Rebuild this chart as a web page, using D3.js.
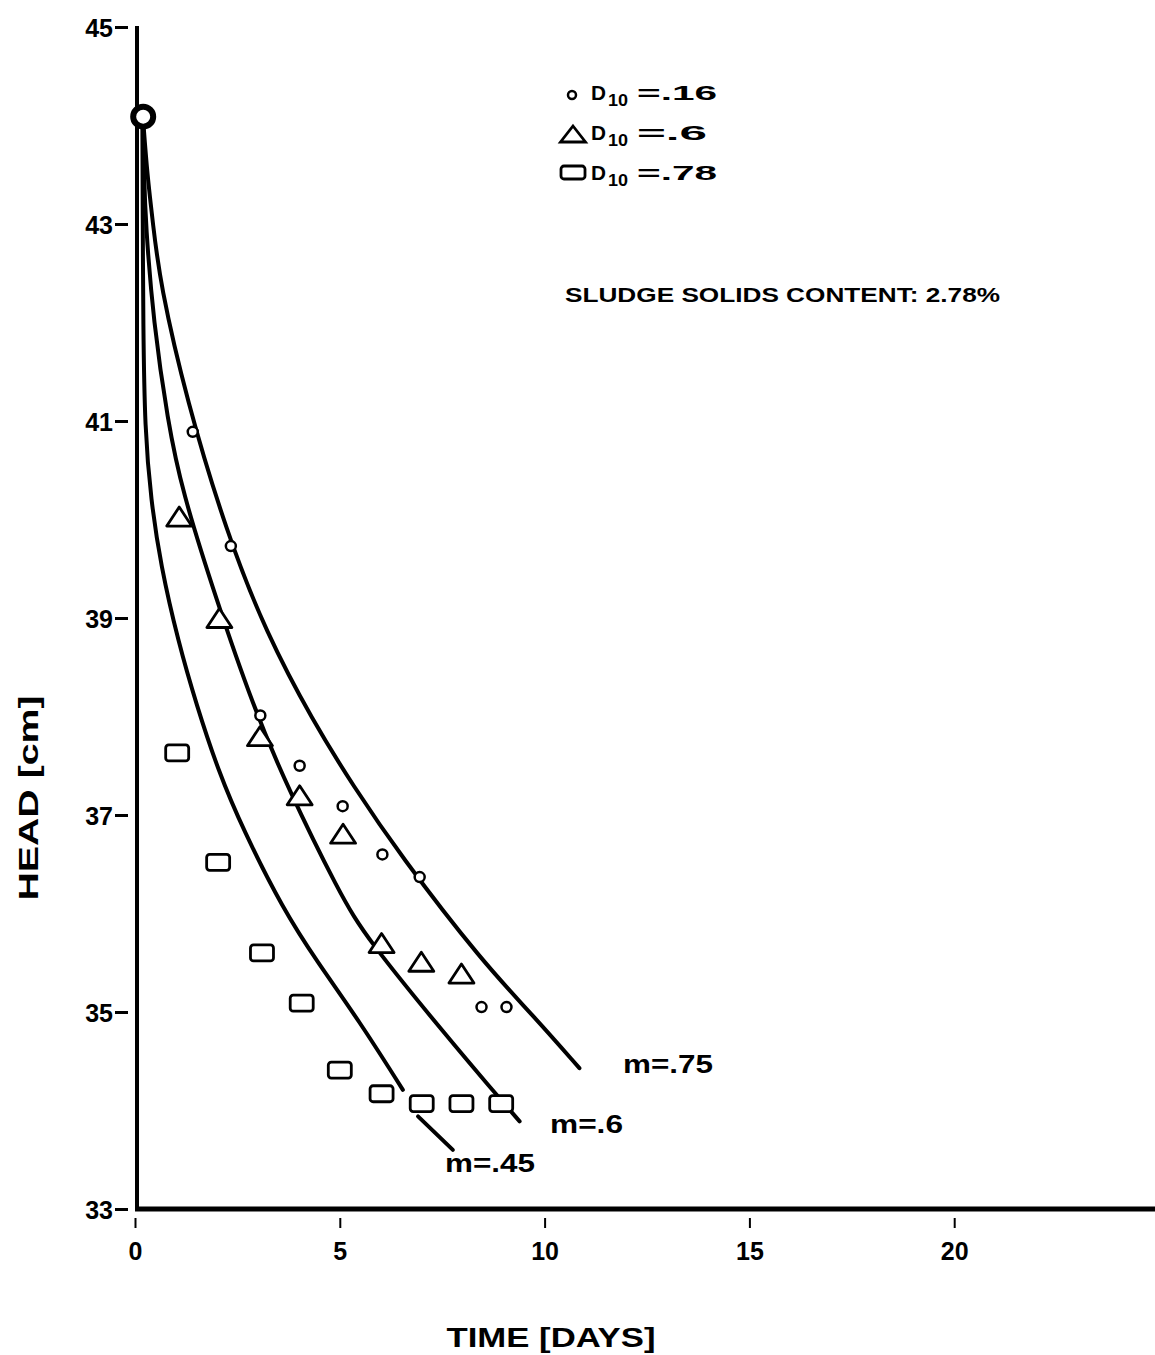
<!DOCTYPE html>
<html>
<head>
<meta charset="utf-8">
<script src="https://cdn.jsdelivr.net/npm/d3@7"></script>
<style>
  body { margin: 0; background: #fff; }
  text { font-family: "Liberation Sans", Arial, sans-serif; font-weight: bold; fill: #000; }
</style>
</head>
<body>
<svg id="chart" width="1155" height="1355"></svg>
<script>
var xTicks = [0, 5, 10, 15, 20];
var yTicks = [33, 35, 37, 39, 41, 43, 45];

// common starting reading (markers overlap at t ~ 0)
var startPoint = [[0.2, 44.09]];

// D10 = .16
var circlePts = [[1.41, 40.89], [2.34, 39.73], [3.06, 38.01], [4.02, 37.5], [5.07, 37.09],
  [6.04, 36.6], [6.95, 36.37], [8.46, 35.05], [9.07, 35.05]];
// D10 = .6
var trianglePts = [[1.08, 40.03], [2.06, 39.0], [3.05, 37.8], [4.02, 37.2], [5.08, 36.81],
  [6.02, 35.7], [6.99, 35.51], [7.97, 35.39]];
// D10 = .78
var squarePts = [[1.03, 37.63], [2.03, 36.52], [3.1, 35.6], [4.07, 35.09], [5.0, 34.41],
  [6.02, 34.17], [7.0, 34.07], [7.97, 34.07], [8.94, 34.07]];

// fitted curves
var curveM75 = [[0.2, 44.05], [0.3, 43.5], [0.44, 43.0], [0.61, 42.4], [1.26, 41.21], [2.24, 39.86], [3.21, 38.84],
  [4.35, 37.95], [5.32, 37.3], [6.46, 36.6], [8.5, 35.5], [9.71, 34.97], [10.85, 34.43]];
var curveM6 = [[0.2, 44.05], [0.22, 43.5], [0.26, 43.0], [0.45, 42.0], [0.8, 41.0], [1.14, 40.3], [1.99, 39.18],
  [2.89, 38.1], [3.7, 37.3], [5.0, 36.2], [5.65, 35.75], [7.68, 34.72], [8.66, 34.24], [9.39, 33.89]];
var curveM45a = [[0.18, 44.05], [0.19, 43.0], [0.2, 42.0], [0.24, 40.9], [0.39, 40.2], [0.62, 39.55], [1.06, 38.75],
  [1.5, 38.12], [2.03, 37.45], [2.64, 36.85], [3.62, 36.04], [4.43, 35.52], [5.49, 34.9], [6.54, 34.21]];
var curveM45b = [[6.91, 33.94], [7.76, 33.6]];

var curveLabels = ['m=.75', 'm=.6', 'm=.45'];
var legendLabels = ['=.16', '=.6', '=.78'];

var svg = d3.select('#chart');
svg.append('rect').attr('width', 1155).attr('height', 1355).attr('fill', '#fff');

var x = d3.scaleLinear().domain([0, 25]).range([135, 1159]);
var y = d3.scaleLinear().domain([33, 45]).range([1209, 27]);

// axes
svg.append('line')
  .attr('x1', 137).attr('x2', 137)
  .attr('y1', y(45) - 1).attr('y2', y(33))
  .attr('stroke', '#000').attr('stroke-width', 4);

svg.append('line')
  .attr('x1', x(0)).attr('x2', 1155)
  .attr('y1', y(33)).attr('y2', y(33))
  .attr('stroke', '#000').attr('stroke-width', 5);

var yAxis = d3.axisLeft(y).tickValues(yTicks).tickSize(13).tickPadding(2).tickFormat(d3.format('d'));
var gy = svg.append('g').attr('transform', 'translate(128,0)').call(yAxis);
gy.select('.domain').remove();
gy.selectAll('.tick line').attr('stroke', '#000').attr('stroke-width', 3);
gy.selectAll('.tick text').attr('font-size', 25).attr('font-family', '"Liberation Sans", Arial, sans-serif')
  .attr('font-weight', 'bold').attr('fill', '#000').attr('dy', '0.36em');

var xAxis = d3.axisBottom(x).tickValues(xTicks).tickSize(10).tickPadding(14);
var gx = svg.append('g').attr('transform', 'translate(0,1218)').call(xAxis);
gx.select('.domain').remove();
gx.selectAll('.tick line').attr('stroke', '#000').attr('stroke-width', 2);
gx.selectAll('.tick text').attr('font-size', 25).attr('font-family', '"Liberation Sans", Arial, sans-serif')
  .attr('font-weight', 'bold').attr('fill', '#000');

// axis titles
svg.append('text')
  .attr('x', 551).attr('y', 1347)
  .attr('text-anchor', 'middle')
  .attr('font-size', 27)
  .attr('textLength', 209).attr('lengthAdjust', 'spacingAndGlyphs')
  .text('TIME [DAYS]');

svg.append('text')
  .attr('transform', 'translate(38,798) rotate(-90)')
  .attr('text-anchor', 'middle')
  .attr('font-size', 28)
  .attr('textLength', 205).attr('lengthAdjust', 'spacingAndGlyphs')
  .text('HEAD [cm]');

// fitted curves
var line = d3.line()
  .x(function(d) { return x(d[0]); })
  .y(function(d) { return y(d[1]); })
  .curve(d3.curveBasis);

[curveM75, curveM6, curveM45a, curveM45b].forEach(function(pts) {
  svg.append('path')
    .datum(pts)
    .attr('d', line)
    .attr('fill', 'none')
    .attr('stroke', '#000')
    .attr('stroke-width', 4)
    .attr('stroke-linecap', 'round');
});

// curve labels
var labelPos = [[623, 1073, 90], [550, 1133, 73], [445, 1172, 90]];
curveLabels.forEach(function(t, i) {
  svg.append('text')
    .attr('x', labelPos[i][0]).attr('y', labelPos[i][1])
    .attr('font-size', 25)
    .attr('textLength', labelPos[i][2]).attr('lengthAdjust', 'spacingAndGlyphs')
    .text(t);
});

// markers
function triPath(w, h) {
  return 'M0,' + (-h / 2) + 'L' + (w / 2) + ',' + (h / 2) + 'L' + (-w / 2) + ',' + (h / 2) + 'Z';
}

svg.selectAll('.startPt')
  .data(startPoint)
  .enter().append('circle')
  .attr('class', 'startPt')
  .attr('cx', function(d) { return x(d[0]); })
  .attr('cy', function(d) { return y(d[1]); })
  .attr('r', 10)
  .attr('fill', '#fff').attr('stroke', '#000').attr('stroke-width', 6);

svg.selectAll('.circ')
  .data(circlePts)
  .enter().append('circle')
  .attr('class', 'circ')
  .attr('cx', function(d) { return x(d[0]); })
  .attr('cy', function(d) { return y(d[1]); })
  .attr('r', 5)
  .attr('fill', '#fff').attr('stroke', '#000').attr('stroke-width', 2.5);

svg.selectAll('.tri')
  .data(trianglePts)
  .enter().append('path')
  .attr('class', 'tri')
  .attr('transform', function(d) { return 'translate(' + x(d[0]) + ',' + y(d[1]) + ')'; })
  .attr('d', triPath(25, 19))
  .attr('fill', '#fff').attr('stroke', '#000').attr('stroke-width', 2.8)
  .attr('stroke-linejoin', 'round');

svg.selectAll('.sq')
  .data(squarePts)
  .enter().append('rect')
  .attr('class', 'sq')
  .attr('x', function(d) { return x(d[0]) - 11.5; })
  .attr('y', function(d) { return y(d[1]) - 8; })
  .attr('width', 23).attr('height', 16).attr('rx', 3)
  .attr('fill', '#fff').attr('stroke', '#000').attr('stroke-width', 2.8);

// legend
var legY = [100, 140, 180];
var legLen = [80, 70, 80];
svg.append('circle').attr('cx', 572).attr('cy', 95).attr('r', 4)
  .attr('fill', '#fff').attr('stroke', '#000').attr('stroke-width', 2.5);
svg.append('path').attr('transform', 'translate(573,134)').attr('d', triPath(25, 16))
  .attr('fill', '#fff').attr('stroke', '#000').attr('stroke-width', 2.8);
svg.append('rect').attr('x', 561).attr('y', 166).attr('width', 24).attr('height', 13).attr('rx', 3)
  .attr('fill', '#fff').attr('stroke', '#000').attr('stroke-width', 2.8);

legendLabels.forEach(function(t, i) {
  svg.append('text').attr('x', 591).attr('y', legY[i]).attr('font-size', 21)
    .attr('textLength', 15).attr('lengthAdjust', 'spacingAndGlyphs').text('D');
  svg.append('text').attr('x', 608).attr('y', legY[i] + 6).attr('font-size', 16)
    .attr('textLength', 20).attr('lengthAdjust', 'spacingAndGlyphs').text('10');
  svg.append('text').attr('x', 637).attr('y', legY[i]).attr('font-size', 21)
    .attr('textLength', legLen[i]).attr('lengthAdjust', 'spacingAndGlyphs').text(t);
});

svg.append('text')
  .attr('x', 565).attr('y', 302)
  .attr('font-size', 20)
  .attr('textLength', 435).attr('lengthAdjust', 'spacingAndGlyphs')
  .text('SLUDGE SOLIDS CONTENT: 2.78%');
</script>
</body>
</html>
